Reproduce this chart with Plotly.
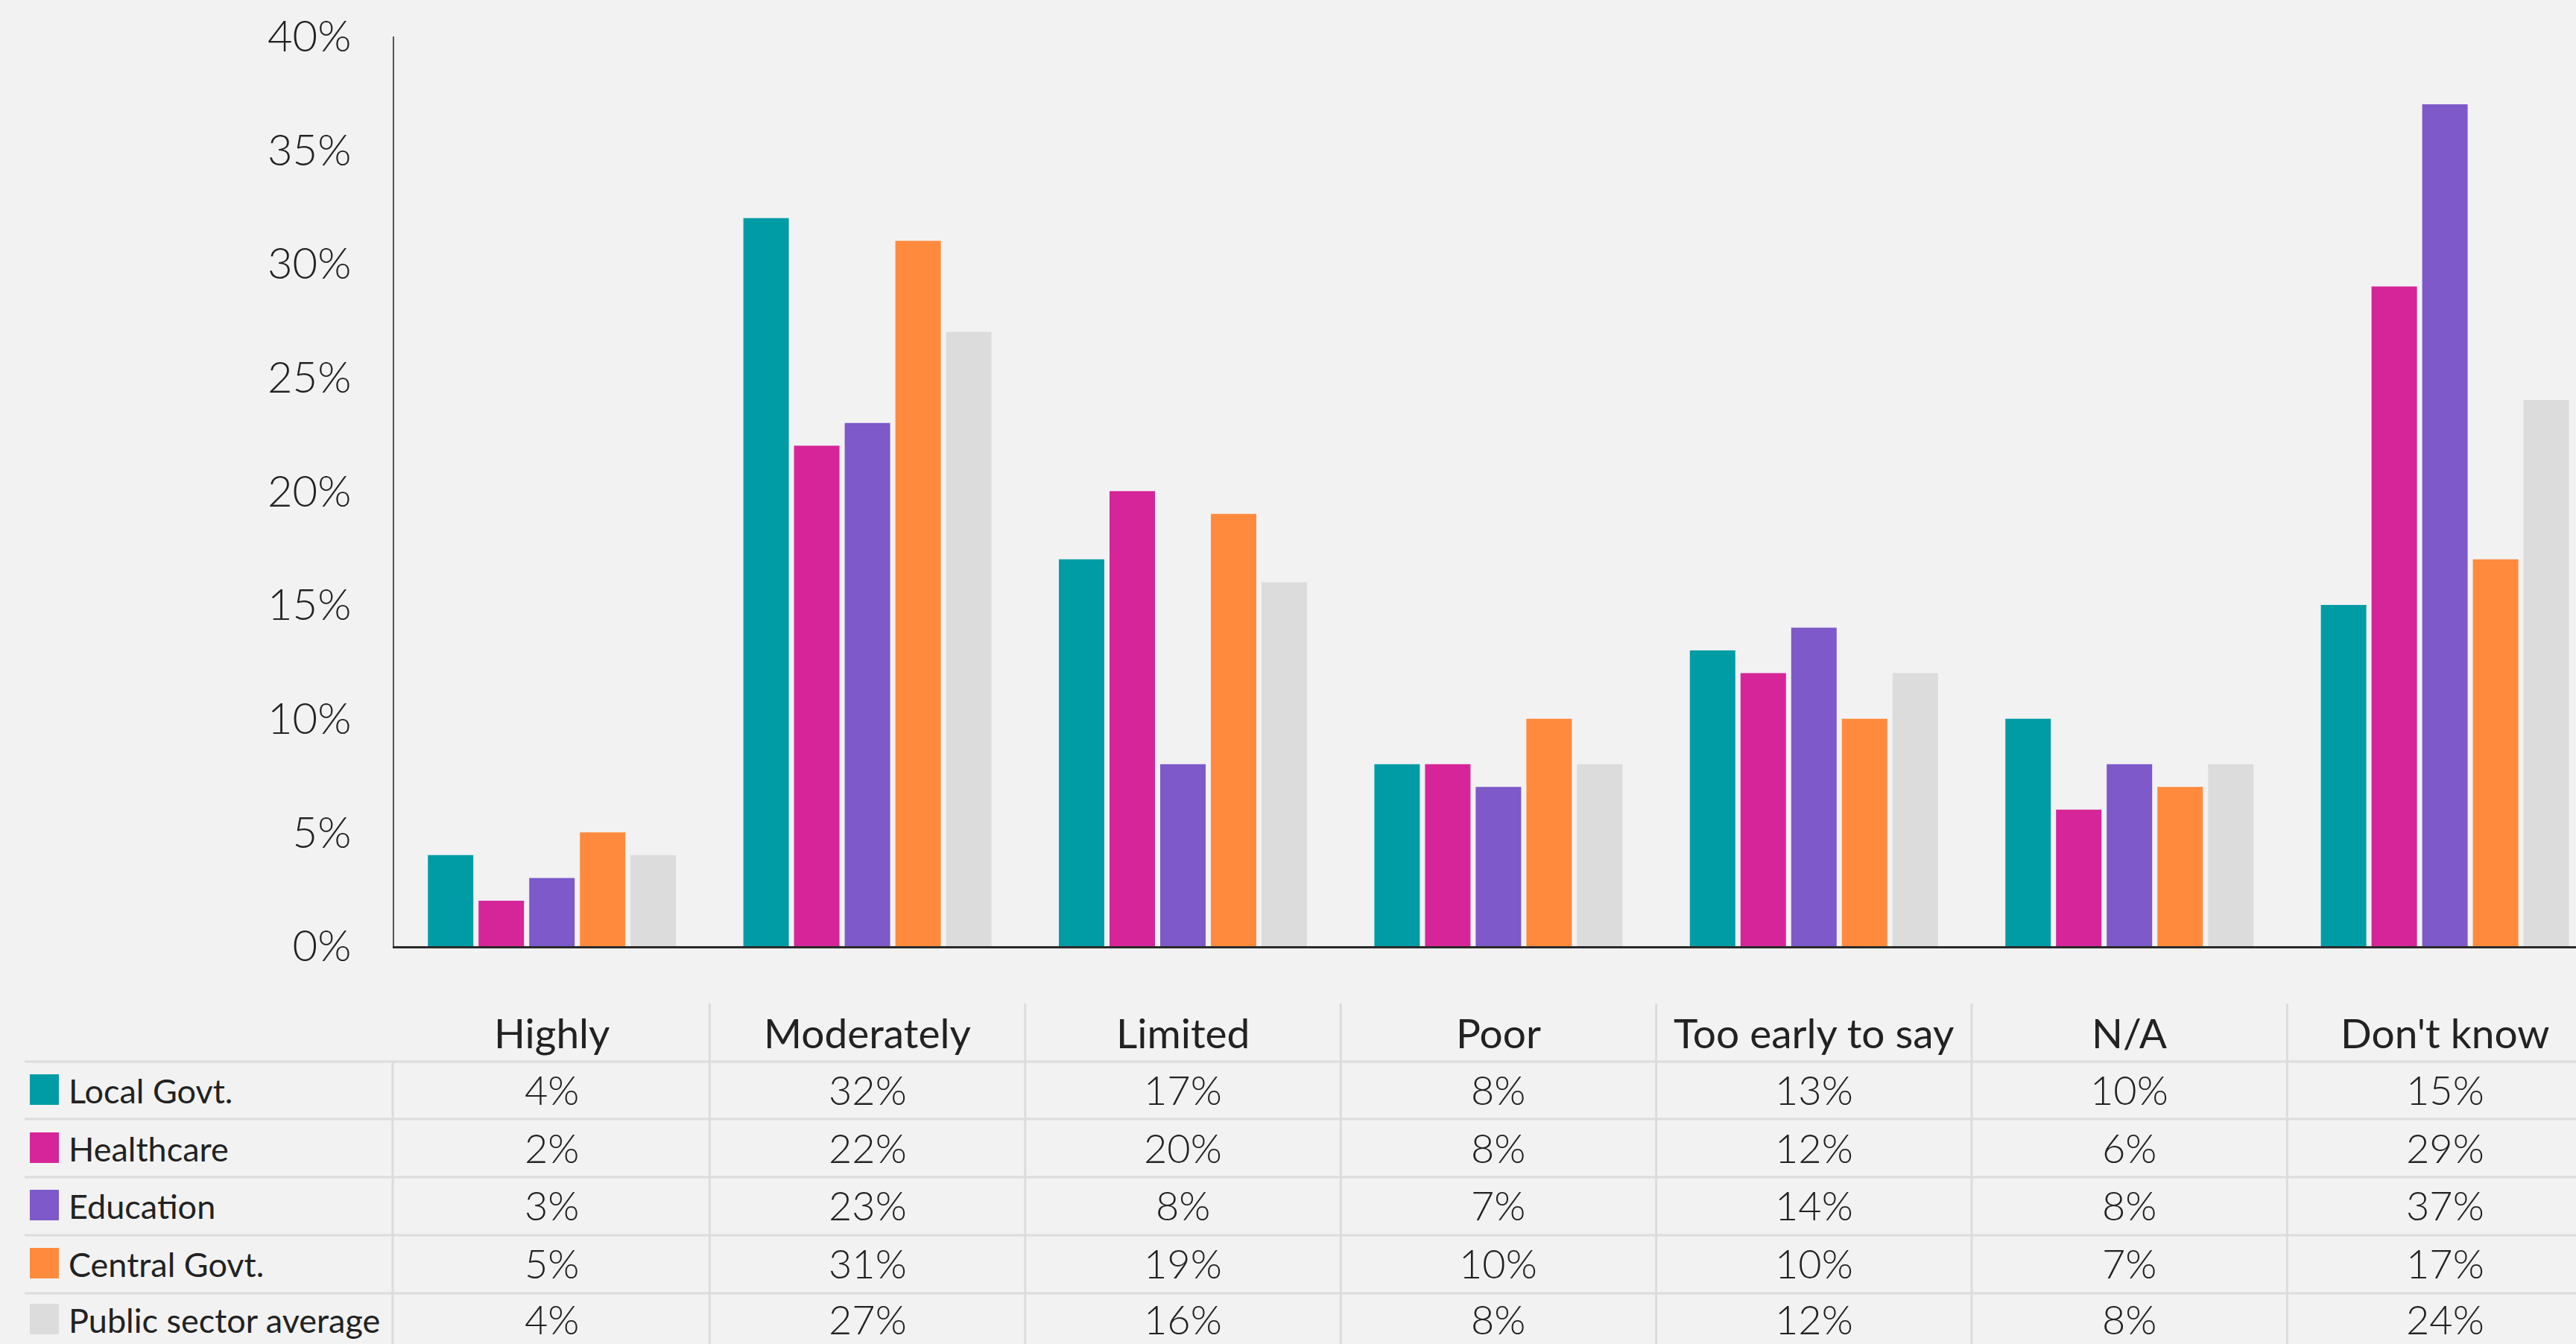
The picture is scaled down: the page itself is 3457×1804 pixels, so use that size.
import plotly.graph_objects as go

# Survey answers (x categories) and share of respondents per sector
categories = ["Highly", "Moderately", "Limited", "Poor", "Too early to say", "N/A", "Don't know"]
local_govt = [4, 32, 17, 8, 13, 10, 15]
healthcare = [2, 22, 20, 8, 12, 6, 29]
education = [3, 23, 8, 7, 14, 8, 37]
central_govt = [5, 31, 19, 10, 10, 7, 17]
public_avg = [4, 27, 16, 8, 12, 8, 24]

series_names = ["Local Govt.", "Healthcare", "Education", "Central Govt.", "Public sector average"]
series_values = [local_govt, healthcare, education, central_govt, public_avg]
series_colors = ["#009CA6", "#D62598", "#7D59C9", "#FF8A3D", "#DCDCDC"]

y_ticks = [0, 5, 10, 15, 20, 25, 30, 35, 40]
y_tick_labels = [f"{t}%" for t in y_ticks]

W, H = 3457, 1804
BG = "#F2F2F2"
TEXT = "#222222"
GRID = "#DCDCDC"
FONT = "Lato"


def py(px):
    """Convert a pixel row (from top) into paper y."""
    return 1 - px / H


def pxx(px):
    return px / W


fig = go.Figure()
idx = list(range(len(categories)))
for name, vals, col in zip(series_names, series_values, series_colors):
    fig.add_trace(go.Bar(
        x=idx, y=vals, name=name, marker=dict(color=col, line=dict(width=0)),
        showlegend=False, hoverinfo="skip",
    ))

plot_left = 529
cat_pitch = 423.4
x_hi = -0.5 + (W - plot_left) / cat_pitch

fig.update_layout(
    width=W, height=H,
    margin=dict(l=0, r=0, t=0, b=0, autoexpand=False),
    paper_bgcolor=BG, plot_bgcolor=BG,
    barmode="group", bargap=0.197, bargroupgap=0.103,
    font=dict(family=FONT, color=TEXT),
    xaxis=dict(
        domain=[pxx(plot_left), 1], range=[-0.5, x_hi],
        showticklabels=False, showgrid=False, zeroline=False,
        showline=True, linecolor="#2A2A2A", linewidth=3, ticks="",
        fixedrange=True, automargin=False,
    ),
    yaxis=dict(
        domain=[py(1270), py(48.5)], range=[0, 40],
        tickvals=y_ticks, ticktext=y_tick_labels,
        tickfont=dict(family=FONT, size=58, color=TEXT, weight=300),
        ticklabelstandoff=44,
        showgrid=False, zeroline=False,
        showline=True, linecolor="#555555", linewidth=2, ticks="",
        fixedrange=True, automargin=False,
    ),
)

# Data table under the chart
header_y = 1386
row_ys = [1462, 1540, 1617, 1695, 1770]
hline_ys = [1425, 1502, 1580, 1658, 1736]

shapes = []
for yl in hline_ys:
    shapes.append(dict(type="line", xref="paper", yref="paper",
                       x0=pxx(33), x1=1, y0=py(yl), y1=py(yl),
                       line=dict(color=GRID, width=3)))
for k in range(len(categories) - 1):
    shapes.append(dict(type="line", xref="x", yref="paper",
                       x0=k + 0.5, x1=k + 0.5, y0=py(1347), y1=0,
                       line=dict(color=GRID, width=3)))
shapes.append(dict(type="line", xref="paper", yref="paper",
                   x0=pxx(plot_left - 2), x1=pxx(plot_left - 2), y0=py(1425), y1=0,
                   line=dict(color=GRID, width=3)))

annotations = []
for i, cat in enumerate(categories):
    annotations.append(dict(x=i, y=py(header_y), xref="x", yref="paper",
                            text=cat, showarrow=False, xanchor="center", yanchor="middle",
                            font=dict(family=FONT, size=55, color=TEXT)))

for r, (name, vals, col) in enumerate(zip(series_names, series_values, series_colors)):
    yc = row_ys[r]
    shapes.append(dict(type="rect", xref="paper", yref="paper",
                       x0=pxx(40), x1=pxx(79), y0=py(yc + 21), y1=py(yc - 20),
                       fillcolor=col, line=dict(width=0)))
    annotations.append(dict(x=pxx(90), y=py(yc + 2), xref="paper", yref="paper",
                            text=name, showarrow=False, xanchor="left", yanchor="middle",
                            font=dict(family=FONT, size=45, color=TEXT)))
    for i, v in enumerate(vals):
        annotations.append(dict(x=i, y=py(yc), xref="x", yref="paper",
                                text=f"{v}%", showarrow=False, xanchor="center", yanchor="middle",
                                font=dict(family=FONT, size=54, color=TEXT, weight=300)))

fig.update_layout(shapes=shapes, annotations=annotations)

fig.write_html("out.html")
